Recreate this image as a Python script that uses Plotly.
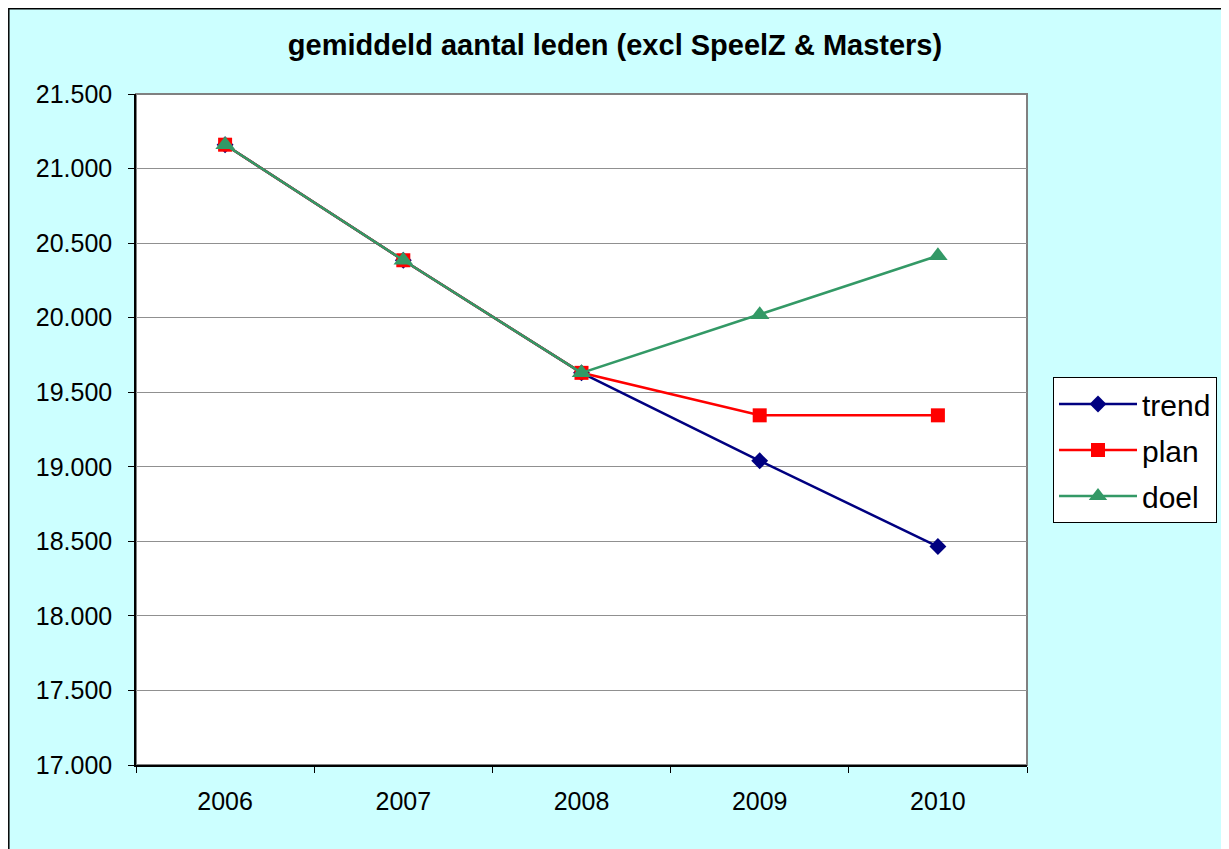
import plotly.graph_objects as go

years = ["2006", "2007", "2008", "2009", "2010"]
trend = [21160, 20385, 19630, 19040, 18465]
plan = [21160, 20385, 19630, 19345, 19345]
doel = [21160, 20385, 19630, 20020, 20415]
y_ticks = [17000, 17500, 18000, 18500, 19000, 19500, 20000, 20500, 21000, 21500]

font_family = "Liberation Sans, Arial, sans-serif"

fig = go.Figure()
fig.add_trace(go.Scatter(x=years, y=trend, name="trend", mode="lines+markers",
                         legendgroup="a",
                         line=dict(color="#000080", width=2.5),
                         marker=dict(symbol="diamond", size=13, color="#000080")))
fig.add_trace(go.Scatter(x=years, y=plan, name="plan", mode="lines+markers",
                         legendgroup="b",
                         line=dict(color="#FF0000", width=2.5),
                         marker=dict(symbol="square", size=14, color="#FF0000")))
fig.add_trace(go.Scatter(x=years, y=doel, name="doel", mode="lines+markers",
                         legendgroup="c",
                         line=dict(color="#339966", width=2.5),
                         marker=dict(symbol="triangle-up", size=17, color="#339966")))

# the page has an 8px body margin, so the figure is drawn 8px in
W, H = 1221, 841
L, R, T, B = 128, 1019, 86, 757
pw, ph = R - L, B - T

def px(xp):
    return (xp - L) / pw

def py(yp):
    return (B - yp) / ph

shapes = [
    dict(type="rect", xref="paper", yref="paper", x0=0, x1=1, y0=0, y1=1,
         line=dict(color="#808080", width=2), layer="below"),
    dict(type="rect", xref="paper", yref="paper", x0=px(0.8), x1=px(1220), y0=py(845), y1=py(0.8),
         line=dict(color="#000000", width=1.5), layer="below"),
]

fig.update_layout(
    width=W, height=H,
    margin=dict(l=L, r=W - R, t=T, b=H - B, pad=0),
    paper_bgcolor="#CCFFFF",
    plot_bgcolor="#FFFFFF",
    separators=",.",
    font=dict(family=font_family, size=25, color="#000000"),
    title=dict(text="<b>gemiddeld aantal leden (excl SpeelZ &amp; Masters)</b>",
               x=607 / W, xref="container", xanchor="center",
               y=1 - 37 / H, yref="container", yanchor="middle",
               font=dict(family=font_family, size=29, color="#000000")),
    showlegend=True,
    legend=dict(x=px(1045), y=py(369), xanchor="left", yanchor="top",
                bgcolor="#FFFFFF", bordercolor="#000000", borderwidth=1,
                font=dict(family=font_family, size=30, color="#000000"),
                tracegroupgap=4, itemwidth=78),
    shapes=shapes,
)

fig.update_xaxes(type="category", tickson="boundaries", ticks="outside", ticklen=6,
                 tickcolor="#000000", showline=True, linecolor="#000000", linewidth=1.5,
                 showgrid=False, tickfont=dict(size=25), range=[-0.5, 4.5],
                 ticklabelstandoff=13)
fig.update_yaxes(range=[17000, 21500], tickvals=y_ticks, tickformat=",d",
                 ticks="outside", ticklen=6, tickcolor="#000000",
                 showline=True, linecolor="#000000", linewidth=1.5,
                 showgrid=True, gridcolor="#909090", gridwidth=1,
                 tickfont=dict(size=25), zeroline=False, ticklabelstandoff=11)

fig.write_html("out.html")
